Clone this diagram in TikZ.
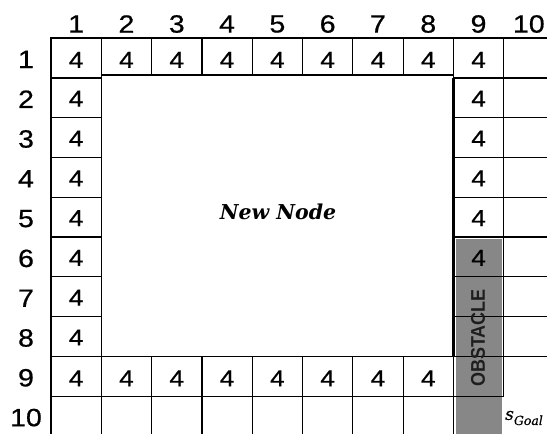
\documentclass[tikz,border=0pt]{standalone}
\usepackage{fontspec}
\setmainfont{Liberation Sans}
\newfontfamily\numfont[FakeBold=0.6]{Liberation Sans}
\newfontfamily\nnfont{DejaVu Serif}
\newfontfamily\goalfont[FakeBold=0.4]{DejaVu Serif}
\definecolor{obst}{HTML}{878787}
\definecolor{obtext}{HTML}{1E1E1E}
\newcommand{\wnum}[1]{\scalebox{1.14}[1]{#1}}
\newcommand{\whdr}[1]{\scalebox{1.14}[1]{#1}}
\begin{document}
\begin{tikzpicture}[x=1pt,y=-1pt,
  gridline/.style={line width=1.2pt, line cap=rect},
  thickline/.style={line width=2.6pt},
  num/.style={font=\numfont\fontsize{23}{24}\selectfont, inner sep=0pt},
  hdr/.style={font=\numfont\fontsize{25}{26}\selectfont, inner sep=0pt},
  bigtext/.style={font=\nnfont\bfseries\itshape\fontsize{20.5}{22}\selectfont, inner sep=0pt},
  obsttext/.style={font=\bfseries\fontsize{18}{20}\selectfont, text=obtext, rotate=90, inner sep=0pt},
  goaltext/.style={font=\goalfont\itshape\fontsize{17}{18}\selectfont, inner sep=0pt}]
\useasboundingbox (0,0) rectangle (547,434);
% obstacle fill
\fill[obst] (455.5,239) rectangle (501.5,434);
% horizontal grid lines
\draw[gridline] (51,38) -- (547,38);
\draw[gridline] (51,78) -- (101.3,78);
\draw[gridline] (101.3,75) -- (453.4,75);
\draw[gridline] (453.4,78) -- (547,78);
\foreach \y in {117.6,157.4,197.2,237,276.8,316.6} {
  \draw[gridline] (51,\y) -- (101.3,\y);
  \draw[gridline] (453.4,\y) -- (547,\y);
}
\draw[gridline] (51,356.4) -- (547,356.4);
\draw[gridline] (51,396.2) -- (503.7,396.2);
% vertical grid lines
\draw[gridline] (51,38) -- (51,434);
\draw[gridline] (101.3,38) -- (101.3,434);
\foreach \x in {151.6,201.9,252.2,302.5,352.8,403.1} {
  \draw[gridline] (\x,38) -- (\x,75);
  \draw[gridline] (\x,356.4) -- (\x,434);
}
\draw[gridline] (453.4,38) -- (453.4,78);
\draw[thickline] (453.4,78) -- (453.4,356.4);
\draw[gridline] (453.4,356.4) -- (453.4,434);
\draw[gridline] (503.7,38) -- (503.7,396.2);
% headers
\foreach \c in {1,...,10}
  \node[hdr] (ch\c) at ({25.85+50.3*\c},24) {\whdr{\c}};
\foreach \r in {1,...,10}
  \node[hdr] (rh\r) at (26,{19.6+39.8*\r}) {\whdr{\r}};
% cell values
\foreach \c in {1,...,9}
  \node[num] (ra\c) at ({25.85+50.3*\c},{20.1+39.8}) {\wnum{4}};
\foreach \c in {1,...,8}
  \node[num] (rb\c) at ({25.85+50.3*\c},{20.1+39.8*9}) {\wnum{4}};
\foreach \r in {2,...,8}
  \node[num] (ca\r) at (76.15,{19.1+39.8*\r}) {\wnum{4}};
\foreach \r in {2,...,6}
  \node[num] (cb\r) at (478.55,{19.1+39.8*\r}) {\wnum{4}};
% labels
\node[bigtext] (newnode) at (278,212) {New Node};
\node[obsttext] (obstacle) at (478,338) {\scalebox{1}[1.1]{OBSTACLE}};
\node[goaltext] (goal) at (524,418) {s\raisebox{-0.3em}{\fontsize{12.5}{13}\selectfont Goal}};
\end{tikzpicture}
\end{document}
